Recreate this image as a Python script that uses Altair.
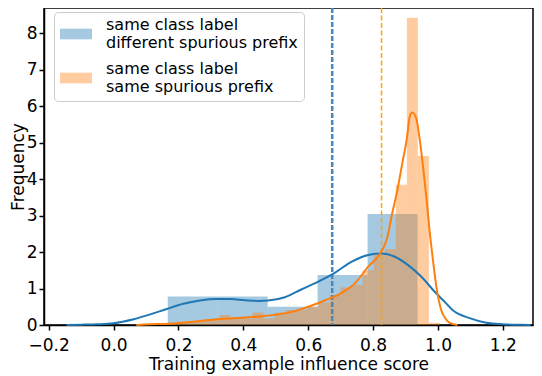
import altair as alt
import pandas as pd

# ---- data ----
series_names = ["same class label|different spurious prefix",
                "same class label|same spurious prefix"]
series_colors = ["#1f77b4", "#ff7f0e"]

x_ticks = [-0.2, 0.0, 0.2, 0.4, 0.6, 0.8, 1.0, 1.2]
y_ticks = [0, 1, 2, 3, 4, 5, 6, 7, 8]

# histogram (density) of "different spurious prefix"
blue_edges = [0.167, 0.321, 0.475, 0.629, 0.783, 0.937]
blue_freq = [0.78, 0.78, 0.50, 1.37, 3.04]

# histogram (density) of "same spurious prefix"
orange_edges = [0.156, 0.190, 0.224, 0.258, 0.292, 0.326, 0.360, 0.394, 0.428,
                0.462, 0.496, 0.530, 0.564, 0.598, 0.632, 0.666, 0.700, 0.734,
                0.768, 0.802, 0.836, 0.870, 0.904, 0.938, 0.972, 1.006]
orange_freq = [0.06, 0.09, 0.09, 0.12, 0.15, 0.27, 0.18, 0.18, 0.34, 0.18,
               0.34, 0.41, 0.41, 0.50, 0.61, 0.82, 1.03, 1.10, 1.50, 1.92,
               2.08, 3.84, 8.42, 4.63, 0.06]

# density curves
blue_kde_x = [-0.145, -0.10, -0.05, 0.0, 0.062, 0.113, 0.164, 0.215, 0.267, 0.318,
              0.36, 0.405, 0.45, 0.477, 0.528, 0.58, 0.631, 0.682, 0.733, 0.785,
              0.826, 0.867, 0.908, 0.949, 0.99, 1.02, 1.045, 1.10, 1.149, 1.20,
              1.25, 1.285]
blue_kde_y = [0.0, 0.008, 0.02, 0.05, 0.16, 0.29, 0.44, 0.58, 0.67, 0.71,
              0.71, 0.68, 0.66, 0.67, 0.76, 0.98, 1.19, 1.43, 1.73, 1.92,
              1.96, 1.87, 1.64, 1.32, 0.91, 0.64, 0.41, 0.18, 0.06, 0.02,
              0.005, 0.0]

orange_kde_x = [0.07, 0.113, 0.164, 0.215, 0.267, 0.318, 0.359, 0.446, 0.549, 0.60,
                0.651, 0.703, 0.744, 0.785, 0.821, 0.844, 0.859, 0.875, 0.89, 0.905,
                0.913, 0.921, 0.933, 0.944, 0.954, 0.964, 0.974, 0.985, 0.995, 1.01,
                1.026, 1.036, 1.06]
orange_kde_y = [0.0, 0.02, 0.03, 0.06, 0.11, 0.16, 0.18, 0.23, 0.36, 0.50,
                0.67, 0.88, 1.14, 1.60, 1.95, 2.40, 3.06, 3.70, 4.43, 5.16,
                5.71, 5.82, 5.66, 5.07, 4.34, 3.52, 2.60, 1.75, 1.05, 0.41,
                0.14, 0.06, 0.0]

mean_values = [0.674, 0.826]

# ---- tables ----
rows = []
for name, edges, freq in [(series_names[0], blue_edges, blue_freq),
                          (series_names[1], orange_edges, orange_freq)]:
    for i, f in enumerate(freq):
        rows.append({"series": name, "x0": edges[i], "x1": edges[i + 1], "freq": f})
bars_df = pd.DataFrame(rows)

blue_kde_df = pd.DataFrame({"x": blue_kde_x, "y": blue_kde_y})
orange_kde_df = pd.DataFrame({"x": orange_kde_x, "y": orange_kde_y})
blue_mean_df = pd.DataFrame({"v": [mean_values[0]]})
orange_mean_df = pd.DataFrame({"v": [mean_values[1]]})

x_scale = alt.Scale(domain=[-0.2145, 1.293], nice=False, zero=False)
y_scale = alt.Scale(domain=[0, 8.685], nice=False)

x_axis = alt.Axis(values=x_ticks, format=".1f", title="Training example influence score",
                  titlePadding=3, labelPadding=7, labelOverlap=False, tickCount=20)
y_axis = alt.Axis(values=y_ticks, format="d", title="Frequency", titleX=-17,
                  labelPadding=2, labelOverlap=False, tickCount=20)

bars = alt.Chart(bars_df).mark_rect(opacity=0.4).encode(
    x=alt.X("x0:Q", scale=x_scale, axis=x_axis),
    x2="x1:Q",
    y=alt.Y("freq:Q", scale=y_scale, axis=y_axis),
    y2=alt.datum(0),
    color=alt.Color("series:N",
                    scale=alt.Scale(domain=series_names, range=series_colors),
                    legend=alt.Legend(
                        title=None, orient="none", legendX=10, legendY=4,
                        padding=6, fillColor="rgba(255,255,255,0.8)",
                        strokeColor="#cccccc", cornerRadius=4,
                        labelExpr="split(datum.label, '|')",
                        labelBaseline="line-bottom",
                        labelFont="DejaVu Sans", labelFontSize=16,
                        labelColor="black", labelLimit=400, labelOffset=14,
                        symbolType="M-1,-0.333H1V0.333H-1Z", symbolSize=1024,
                        symbolStrokeWidth=0, symbolOpacity=0.4, rowPadding=10)),
)

blue_kde = alt.Chart(blue_kde_df).mark_line(
    interpolate="monotone", strokeWidth=2, color=series_colors[0]
).encode(x=alt.X("x:Q", scale=x_scale), y=alt.Y("y:Q", scale=y_scale))

orange_kde = alt.Chart(orange_kde_df).mark_line(
    interpolate="monotone", strokeWidth=2, color=series_colors[1]
).encode(x=alt.X("x:Q", scale=x_scale), y=alt.Y("y:Q", scale=y_scale))

blue_mean = alt.Chart(blue_mean_df).mark_rule(
    strokeDash=[5, 2], strokeWidth=2.5, color="#4a87bd"
).encode(x=alt.X("v:Q", scale=x_scale))

orange_mean = alt.Chart(orange_mean_df).mark_rule(
    strokeDash=[5, 2.5], strokeWidth=1.5, color="#ffa500"
).encode(x=alt.X("v:Q", scale=x_scale))

chart = alt.layer(bars, blue_mean, orange_mean, blue_kde, orange_kde).properties(
    width=489, height=317,
    autosize=alt.AutoSizeParams(type="none"),
    padding={"left": 36, "top": 0, "right": 1, "bottom": 51},
).configure_view(
    stroke="black", strokeWidth=1.5
).configure_axis(
    grid=False, domainColor="black", domainWidth=1.5,
    tickColor="black", tickWidth=1.5, tickSize=5,
    labelFont="DejaVu Sans", labelFontSize=17, labelColor="black",
    titleFont="DejaVu Sans", titleFontSize=17, titleFontWeight="normal",
    titleColor="black"
)

chart.save("out.html", embed_options={"renderer": "svg", "actions": False})
